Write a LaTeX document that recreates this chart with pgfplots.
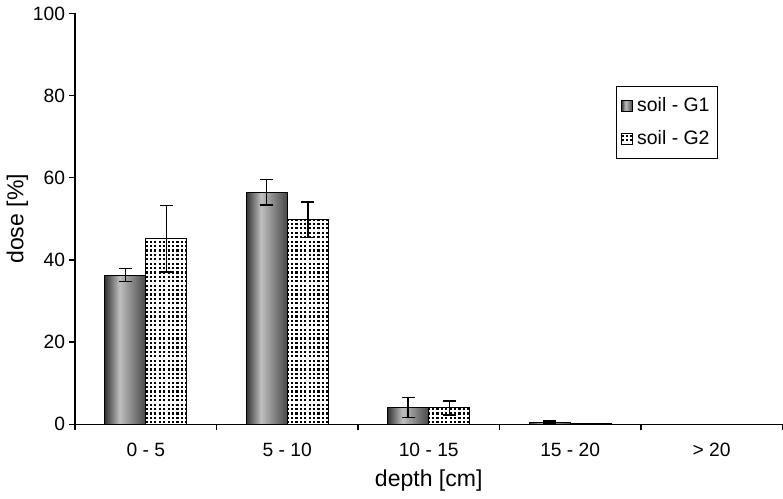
\documentclass[border=0pt]{standalone}
\usepackage{pgfplots}
\pgfplotsset{compat=1.18}
\usepackage{fontspec}
\setmainfont{Liberation Sans}
\usetikzlibrary{patterns}
\pgfdeclarehorizontalshading{cyl}{100bp}{color(0bp)=(black!80); color(25bp)=(black!80); color(43bp)=(black!25); color(75bp)=(black!72); color(100bp)=(black!72)}
\pgfdeclarepatternformonly{mydots}{\pgfqpoint{-0.5pt}{-0.5pt}}{\pgfqpoint{2.7pt}{2.7pt}}{\pgfqpoint{2.2pt}{2.2pt}}{\pgfpathrectangle{\pgfqpoint{0pt}{0pt}}{\pgfqpoint{1.1pt}{1.1pt}}\pgfusepath{fill}}
\pgfplotsset{
  gone/.style={draw=black, line width=0.6pt, shading=cyl, bar shift=-10.25pt,
    error bars/y dir=both, error bars/y explicit},
}
\begin{document}
\begin{tikzpicture}
\begin{axis}[
  scale only axis, width=353pt, height=205pt,
  xmin=-0.5, xmax=4.5, ymin=0, ymax=100,
  ytick={0,20,...,100},
  xtick={0,...,4},
  xticklabels={0 - 5, 5 - 10, 10 - 15, 15 - 20, {> 20}},
  major x tick style={draw=none},
  minor xtick={-0.5,0.5,...,4.5},
  tick align=outside,
  tick style={black, line width=0.6pt},
  major tick length=3pt, minor tick length=3pt,
  axis x line*=bottom, axis y line*=left,
  axis line style={-, line width=0.6pt},
  ybar=0pt, bar width=20.5pt,
  xlabel={depth [cm]}, ylabel={dose [\%]},
  font=\fontsize{9.6}{11.5}\selectfont,
  /pgf/number format/assume math mode=true,
  ticklabel style={font=\fontsize{9.6}{11.5}\selectfont},
  label style={font=\fontsize{11.5}{13.5}\selectfont},
  xticklabel style={yshift=-2.75pt},
  yticklabel style={xshift=1.5pt},
  ylabel style={yshift=-4.5pt},
  xlabel style={yshift=0pt},
  legend style={at={(rel axis cs:0.765,0.824)}, anchor=north west, draw=black, line width=0.6pt,
    font=\fontsize{9.7}{11.5}\selectfont, row sep=4pt, inner ysep=3.5pt, inner xsep=2pt},
  legend cell align=left,
  legend image code/.code={\draw[#1, line width=0.8pt] (0pt,-2.7pt) rectangle (5.4pt,2.7pt);},
  error bars/error bar style={line width=0.7pt, black},
  error bars/error mark options={rotate=90, mark size=3.2pt, line width=0.7pt, black},
]
\addplot[gone] table[x=x, y=y, y error=e] {
x y e
0 36.3 1.6
};
\addlegendentry{soil - G1}
\addplot[draw=black, line width=0.6pt, pattern=mydots, bar shift=10.25pt,
  error bars/y dir=both, error bars/y explicit]
  table[x=x, y=y, y error=e] {
x y e
0 45.2 8.1
1 49.8 4.3
2 4.0 1.7
3 0.05 0
4 0 0
};
\addlegendentry{soil - G2}
\addplot[gone, forget plot] table[x=x, y=y, y error=e] {
x y e
1 56.5 3.1
};
\addplot[gone, forget plot] table[x=x, y=y, y error=e] {
x y e
2 4.1 2.4
};
\addplot[gone, forget plot] table[x=x, y=y, y error=e] {
x y e
3 0.5 0.25
};
\addplot[gone, forget plot] table[x=x, y=y, y error=e] {
x y e
4 0 0
};
\end{axis}
\end{tikzpicture}
\end{document}
